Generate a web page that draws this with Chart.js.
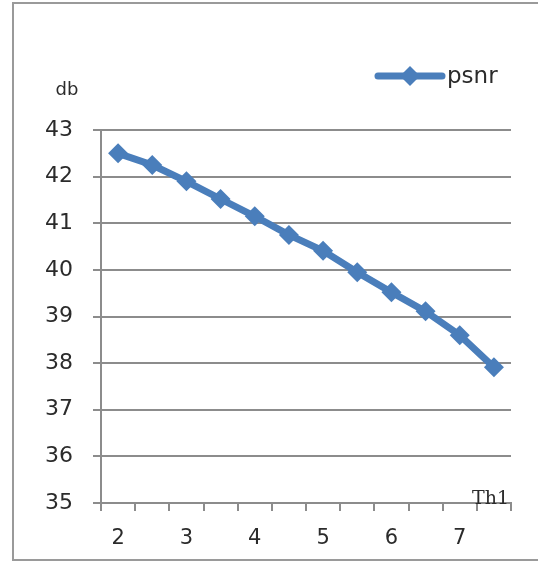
<!DOCTYPE html>
<html>
<head>
<meta charset="utf-8">
<script src="https://cdn.jsdelivr.net/npm/chart.js@4/dist/chart.umd.min.js"></script>
<style>
  html, body { margin: 0; padding: 0; background: #fff; overflow: hidden; }
  #c { display: block; }
</style>
</head>
<body>
<canvas id="c" width="538" height="561"></canvas>
<script>
// Threshold Th1 sampled every half step
const categories = ['2', '2.5', '3', '3.5', '4', '4.5', '5', '5.5', '6', '6.5', '7', '7.5'];
// PSNR in dB at each threshold
const psnr = [42.5, 42.25, 41.9, 41.52, 41.15, 40.75, 40.41, 39.95, 39.52, 39.11, 38.6, 37.91];
const yMin = 35;
const yMax = 43;
const seriesName = 'psnr';
const yTitle = 'db';
const xTitle = 'Th1';

const BLUE = '#4a7ebb';
const GRID = '#8c8c8c';
const FRAME = '#9a9a9a';
const TEXT = '#2b2b2b';
const SANS = "'DejaVu Sans', sans-serif";

// outer frame: left, top and bottom edges of the chart box
const frame = {
  id: 'frame',
  beforeDraw(chart) {
    const ctx = chart.ctx;
    ctx.save();
    ctx.strokeStyle = FRAME;
    ctx.lineWidth = 2;
    ctx.beginPath();
    ctx.moveTo(538, 3);
    ctx.lineTo(13, 3);
    ctx.lineTo(13, 560);
    ctx.lineTo(538, 560);
    ctx.stroke();
    ctx.restore();
  }
};

const decorations = {
  id: 'decorations',
  afterDraw(chart) {
    const ctx = chart.ctx;
    const area = chart.chartArea;
    ctx.save();
    // axis titles
    ctx.fillStyle = TEXT;
    ctx.font = '18px ' + SANS;
    ctx.textAlign = 'center';
    ctx.textBaseline = 'middle';
    ctx.fillText(yTitle, 67, area.top - 40);
    ctx.font = "19px 'DejaVu Serif', serif";
    ctx.textAlign = 'right';
    ctx.textBaseline = 'alphabetic';
    ctx.fillText(xTitle, area.right - 2, area.bottom + 1);

    // legend
    const ly = area.top - 54;
    ctx.strokeStyle = BLUE;
    ctx.lineWidth = 7;
    ctx.lineCap = 'round';
    ctx.beginPath();
    ctx.moveTo(378, ly);
    ctx.lineTo(442, ly);
    ctx.stroke();
    ctx.fillStyle = BLUE;
    ctx.beginPath();
    ctx.moveTo(410, ly - 10);
    ctx.lineTo(420, ly);
    ctx.lineTo(410, ly + 10);
    ctx.lineTo(400, ly);
    ctx.closePath();
    ctx.fill();
    ctx.fillStyle = TEXT;
    ctx.font = '23px ' + SANS;
    ctx.textAlign = 'left';
    ctx.textBaseline = 'middle';
    ctx.fillText(seriesName, 447, ly + 1);
    ctx.restore();
  }
};

new Chart(document.getElementById('c'), {
  type: 'line',
  data: {
    labels: categories,
    datasets: [{
      label: seriesName,
      data: psnr,
      borderColor: BLUE,
      backgroundColor: BLUE,
      borderWidth: 7,
      pointStyle: 'rectRot',
      pointRadius: 10,
      pointBorderWidth: 0,
      tension: 0,
      clip: false
    }]
  },
  options: {
    responsive: false,
    animation: false,
    layout: { padding: { left: 0, right: 27, top: 130, bottom: 0 } },
    plugins: { legend: { display: false }, tooltip: { enabled: false } },
    scales: {
      x: {
        offset: true,
        grid: { offset: true, drawOnChartArea: false, color: GRID, lineWidth: 2, tickLength: 8 },
        border: { color: GRID, width: 2 },
        ticks: {
          autoSkip: false,
          maxRotation: 0,
          color: TEXT,
          font: { family: SANS, size: 21 },
          padding: 15,
          callback: function (v) {
            const s = this.getLabelForValue(v);
            return s.indexOf('.') < 0 ? s : '';
          }
        },
        afterFit(scale) { scale.height = 58; }
      },
      y: {
        min: yMin,
        max: yMax,
        grid: { color: GRID, lineWidth: 2, tickLength: 8 },
        border: { color: GRID, width: 2 },
        ticks: {
          stepSize: 1,
          color: TEXT,
          font: { family: SANS, size: 22 },
          padding: 20
        },
        afterFit(scale) { scale.width = 101; }
      }
    }
  },
  plugins: [frame, decorations]
});
</script>
</body>
</html>
